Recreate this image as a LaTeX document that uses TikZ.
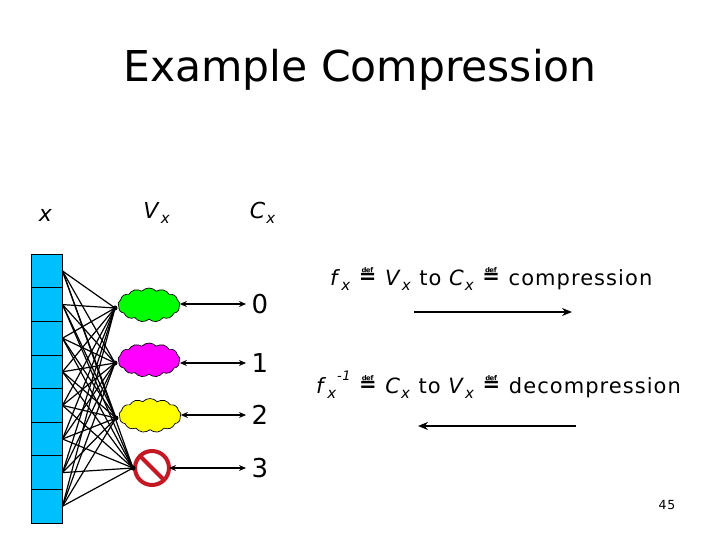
\documentclass[tikz,border=0pt]{standalone}
\usepackage{fontspec}
\setmainfont{DejaVu Sans}
\newfontfamily\widefont[LetterSpace=5]{DejaVu Sans}
\usepackage{xcolor}
\usetikzlibrary{arrows.meta,shapes,shapes.symbols,shapes.misc,positioning}
\definecolor{cellblue}{RGB}{0,191,255}
\definecolor{signred}{RGB}{196,24,36}
\definecolor{cloudgreen}{RGB}{0,255,0}
\definecolor{cloudpink}{RGB}{255,0,255}
\definecolor{cloudyellow}{RGB}{255,255,0}
\newcommand{\subx}[1]{\textit{#1}\raisebox{-0.45ex}{\fontsize{15}{15}\selectfont\textit{x}}}
\newcommand{\defeq}{\raisebox{0.1ex}{\fontsize{21}{21}\selectfont\textbf{≝}}}

\begin{document}
\begin{tikzpicture}[
    x=1pt, y=-1pt,
    node distance=0pt,
    cellnode/.style={draw, rectangle, fill=cellblue, line width=0.7pt,
                     minimum width=31pt, minimum height=33.6pt, inner sep=0pt,
                     outer sep=0pt},
    cloudnode/.style={draw, cloud, cloud puffs=13, cloud puff arc=95, aspect=2.1,
                      line width=0.7pt, minimum width=62pt, minimum height=34pt,
                      inner sep=0pt, outer sep=0pt},
    signnode/.style={forbidden sign, draw=signred, fill=white, line width=4pt,
                     minimum size=34pt, inner sep=0pt, outer sep=0pt, xscale=-1},
    hubnode/.style={circle, fill=black, minimum size=5pt, inner sep=0pt},
    headlabel/.style={font=\widefont\fontsize{22}{22}\selectfont, inner sep=0pt},
    numlabel/.style={font=\fontsize{26}{26}\selectfont, inner sep=0pt},
    maplabel/.style={font=\widefont\fontsize{21}{21}\selectfont, anchor=base west, inner sep=0pt},
    link/.style={line width=1.2pt},
    arr/.style={{Stealth[length=7pt,width=6pt]}-{Stealth[length=7pt,width=6pt]}, line width=1.1pt},
    maparr/.style={-{Stealth[length=10pt,width=8pt]}, line width=1.5pt},
  ]
    \useasboundingbox (0,0) rectangle (720,540);

    % ---- Title and column heads ----
    \node[font=\fontsize{42.5}{42.5}\selectfont, inner sep=0pt] (title) at (360,70) {Example Compression};
    \node[headlabel] (headx) at (46,215) {\textit{x}};
    \node[headlabel] (headv) at (157,213) {\subx{V}};
    \node[headlabel] (headc) at (263,213) {\subx{C}};

    % ---- Array of cells ----
    \node[cellnode] (cell0) at (47,271) {};
    \foreach \i [remember=\i as \prev (initially 0)] in {1,...,7}
      \node[cellnode, below=of cell\prev] (cell\i) {};

    % ---- Clouds and sign ----
    \node[cloudnode, fill=cloudgreen]  (cloud0) at (149,305) {};
    \node[cloudnode, fill=cloudpink]   (cloud1) at (149,360) {};
    \node[cloudnode, fill=cloudyellow] (cloud2) at (150,415.5) {};
    \node[signnode] (sign) at (152,468) {};

    % ---- Meeting points of the links ----
    \node[hubnode] (hub0) at (115,308) {};
    \node[hubnode] (hub1) at (115,363) {};
    \node[hubnode] (hub2) at (116,418) {};
    \node[hubnode] (hub3) at (133,468) {};

    % ---- Links from cells to clouds ----
    \foreach \i in {0,...,7}
      \foreach \j in {0,...,3}
        \draw[link] (cell\i.east) -- (hub\j.center);

    % ---- Digits ----
    \node[numlabel] (num0) at (260,304) {0};
    \node[numlabel] (num1) at (260,363) {1};
    \node[numlabel] (num2) at (260,415) {2};
    \node[numlabel] (num3) at (260,468) {3};

    % ---- Arrow ends beside the digits ----
    \coordinate[left=14pt of num0.center] (end0);
    \coordinate[left=14pt of num1.center] (end1);
    \coordinate[left=14pt of num2.center] (end2);
    \coordinate[left=14pt of num3.center] (end3);

    % ---- Double arrows ----
    \draw[arr] (cloud0.east |- end0) -- (end0);
    \draw[arr] (cloud1.east |- end1) -- (end1);
    \draw[arr] (cloud2.east |- end2) -- (end2);
    \draw[arr] (sign.west |- end3) -- (end3);

    % ---- Mapping labels ----
    \node[maplabel] (mapf) at (330,285)
      {\subx{f} \defeq{} \subx{V} to \subx{C} \defeq{} compression};
    \node[maplabel] (mapg) at (316,393)
      {\subx{f}\raisebox{1.1ex}{\fontsize{13}{13}\selectfont\textit{-1}} \defeq{} \subx{C} to \subx{V} \defeq{} decompression};

    % ---- Mapping arrows ----
    \coordinate (fstart) at (414,312);
    \coordinate (fend)   at (572,312);
    \coordinate (gstart) at (576,426);
    \coordinate (gend)   at (418,426);
    \draw[maparr] (fstart) -- (fend);
    \draw[maparr] (gstart) -- (gend);

    % ---- Page number ----
    \node[font=\widefont\fontsize{12.5}{12.5}\selectfont, inner sep=0pt] (page) at (667,505) {45};
  \end{tikzpicture}
\end{document}
